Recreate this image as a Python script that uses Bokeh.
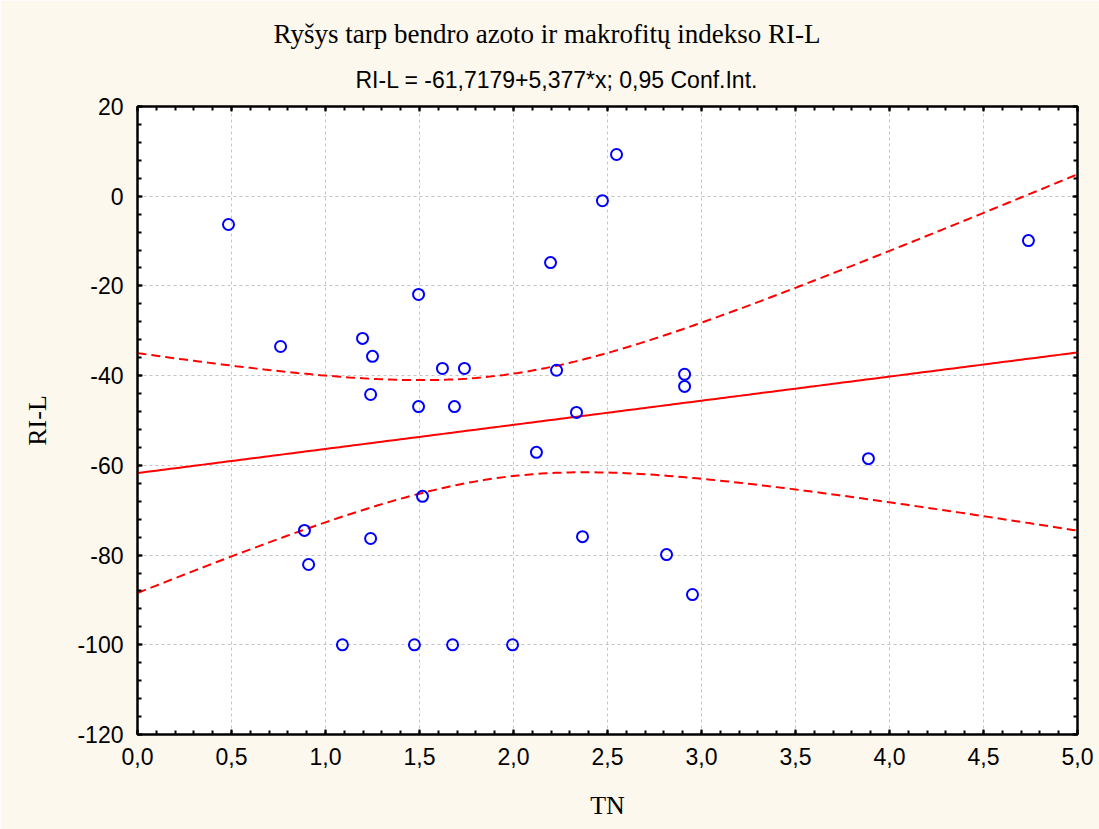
import numpy as np
from bokeh.plotting import figure
from bokeh.models import (Range1d, LinearAxis, FixedTicker, CustomJSTickFormatter,
                          CustomLabelingPolicy, Grid, Title)
from bokeh.embed import file_html
from bokeh.resources import INLINE

# Total nitrogen (TN) and macrophyte index RI-L per site
tn = [0.484, 0.761, 0.888, 0.910, 1.090, 1.197, 1.250, 1.240, 1.240, 1.495,
      1.495, 1.473, 1.516, 1.622, 1.739, 1.686, 1.676, 1.995, 2.122, 2.197,
      2.229, 2.335, 2.367, 2.473, 2.548, 2.814, 2.910, 2.910, 2.952, 3.888, 4.739]
ril = [-6.3, -33.5, -74.5, -82.1, -100.0, -31.7, -35.7, -44.2, -76.3, -21.9,
       -46.9, -100.0, -66.9, -38.4, -38.4, -46.9, -100.0, -100.0, -57.1, -14.8,
       -38.8, -48.2, -75.9, -1.0, 9.3, -79.9, -39.7, -42.4, -88.8, -58.5, -9.9]

# Fitted regression line (as stated in the subtitle)
intercept = -61.7179
slope = 5.377
t_crit = 2.0452  # Student t, 0.975, n-2 = 29 df

x_ticks = [0.0, 0.5, 1.0, 1.5, 2.0, 2.5, 3.0, 3.5, 4.0, 4.5, 5.0]
x_minor = [round(i * 0.1, 1) for i in range(0, 51)]
y_ticks = [-120, -100, -80, -60, -40, -20, 0, 20]
y_minor = list(range(-120, 21, 4))

# 95% confidence band of the mean response
xa = np.array(tn)
ya = np.array(ril)
n = len(xa)
xbar = xa.mean()
sxx = ((xa - xbar) ** 2).sum()
resid = ya - (intercept + slope * xa)
s = np.sqrt((resid ** 2).sum() / (n - 2))
xg = np.linspace(0, 5, 201)
yfit = intercept + slope * xg
half = t_crit * s * np.sqrt(1.0 / n + (xg - xbar) ** 2 / sxx)

BG = "#FDF8EE"
SANS = "Liberation Sans"
SERIF = "Liberation Serif"

p = figure(width=1099, height=829, output_backend="svg", toolbar_location=None,
           x_range=Range1d(0, 5), y_range=Range1d(-120, 20),
           x_axis_location=None, y_axis_location=None)
p.min_border_left = 137
p.min_border_right = 22
p.min_border_top = 106
p.min_border_bottom = 95
p.border_fill_color = BG
p.background_fill_color = "white"
p.outline_line_color = "black"
p.outline_line_width = 2

fmt_x = CustomJSTickFormatter(code="return tick.toFixed(1).replace('.', ',');")
fmt_y = CustomJSTickFormatter(code="return tick.toFixed(0);")

# tick-only axes for the top and right edges: drop every label
no_labels = CustomLabelingPolicy(code="""
    const ids = Array.from(indices);
    for (const i of ids) { indices.unset(i); }
    return indices;
""")


def make_axis(ticks, minor, fmt, show_labels):
    ax = LinearAxis(ticker=FixedTicker(ticks=ticks, minor_ticks=minor), formatter=fmt)
    ax.axis_line_color = "black"
    ax.axis_line_width = 2
    ax.major_tick_in = 5
    ax.major_tick_out = 0
    ax.minor_tick_in = 4
    ax.minor_tick_out = 0
    ax.major_tick_line_color = "black"
    ax.minor_tick_line_color = "black"
    ax.major_tick_line_width = 2
    ax.minor_tick_line_width = 2
    ax.major_label_text_font = SANS
    ax.major_label_text_color = "black"
    if show_labels:
        ax.major_label_text_font_size = "23px"
    else:
        ax.major_label_text_font_size = "0px"
        ax.major_label_policy = no_labels
        ax.major_label_standoff = 0
    return ax


xb = make_axis(x_ticks, x_minor, fmt_x, True)
xb.major_label_standoff = 13
xb.axis_label = "TN"
xb.axis_label_text_font = SERIF
xb.axis_label_text_font_size = "26px"
xb.axis_label_text_font_style = "normal"
xb.axis_label_text_color = "black"
xb.axis_label_standoff = 23
p.add_layout(xb, "below")

yl = make_axis(y_ticks, y_minor, fmt_y, True)
yl.major_label_standoff = 14
yl.axis_label = "RI-L"
yl.axis_label_text_font = SERIF
yl.axis_label_text_font_size = "26px"
yl.axis_label_text_font_style = "normal"
yl.axis_label_text_color = "black"
yl.axis_label_standoff = 22
p.add_layout(yl, "left")

p.add_layout(make_axis(x_ticks, x_minor, fmt_x, False), "above")
p.add_layout(make_axis(y_ticks, y_minor, fmt_y, False), "right")

p.xgrid.visible = False
p.ygrid.visible = False
for dim, ticks in ((0, x_ticks), (1, y_ticks)):
    g = Grid(dimension=dim, ticker=FixedTicker(ticks=ticks))
    g.grid_line_color = "#C4C4C4"
    g.grid_line_dash = "3 3"
    g.grid_line_width = 1
    p.add_layout(g)

# confidence band and fitted line
p.line(xg, yfit + half, line_color="#FF0000", line_width=2, line_dash="9 5")
p.line(xg, yfit - half, line_color="#FF0000", line_width=2, line_dash="9 5")
p.line(xg, yfit, line_color="#FF0000", line_width=2)

# observations
p.scatter(tn, ril, marker="circle", size=11, fill_color=None,
          line_color="#0000FF", line_width=2)

sub = Title(text="RI-L = -61,7179+5,377*x; 0,95 Conf.Int.", align="left",
            offset=218, text_font=SANS, text_font_size="23px",
            text_font_style="normal", text_color="black", standoff=27)
main = Title(text="Ryšys tarp bendro azoto ir makrofitų indekso RI-L", align="left",
             offset=136, text_font=SERIF, text_font_size="27px",
             text_font_style="normal", text_color="black", standoff=6)
p.add_layout(sub, "above")
p.add_layout(main, "above")

open("out.html", "w").write(file_html(p, INLINE))
